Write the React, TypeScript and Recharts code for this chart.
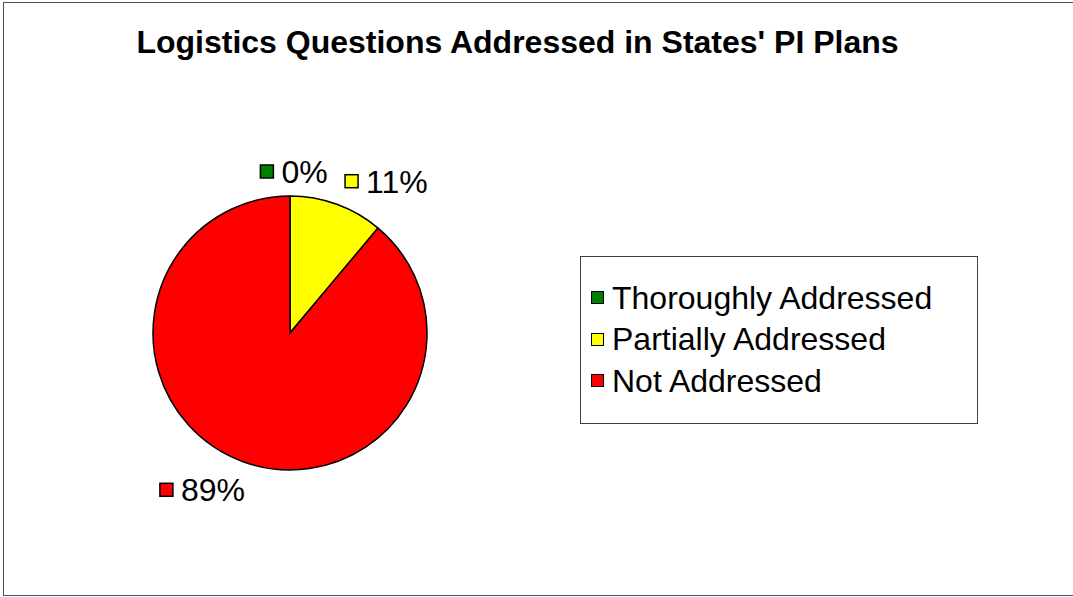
import React from 'react';
import { PieChart, Pie, Cell, Legend } from 'recharts';

// Категории и значения (штаты)
const categories = ['Thoroughly Addressed', 'Partially Addressed', 'Not Addressed'];
const values = [0, 1, 8];
const colors = ['#008000', '#FFFF00', '#FF0000'];

const title = "Logistics Questions Addressed in States' PI Plans";

const data = categories.map((name, i) => ({ name, value: values[i], color: colors[i] }));

const FONT = '"Liberation Sans", Arial, sans-serif';
const RADIAN = Math.PI / 180;

// ширина текста по метрикам Arial
const charW: Record<string, number> = { '%': 0.889 };
const textWidth = (s: string, size: number) =>
  s.split('').reduce((acc, ch) => acc + (charW[ch] ?? 0.556), 0) * size;

const renderLabel = ({ cx, cy, midAngle, outerRadius, percent, index }: any) => {
  const r = outerRadius + 24;
  const cos = Math.cos(-midAngle * RADIAN);
  const x = cx + r * cos;
  const y = cy + r * Math.sin(-midAngle * RADIAN);
  const label = `${Math.round(percent * 100)}%`;
  const size = 32;
  const w = 21 + textWidth(label, size);
  let left = x;
  if (Math.abs(cos) < 0.2) left = x - w / 2 + 4;
  else if (cos < 0) left = x - w + 10;
  const yy = cos < -0.2 ? y + 6 : y;
  return (
    <g key={`lbl-${index}`}>
      <rect x={left} y={yy - 7} width={13} height={13} fill={colors[index]} stroke="#000" strokeWidth={1.5} />
      <text x={left + 21} y={yy} dominantBaseline="central" fontSize={size} fontFamily={FONT} fill="#000">
        {label}
      </text>
    </g>
  );
};

const renderLegend = ({ payload }: any) => {
  const items = [...(payload || [])].sort(
    (a: any, b: any) => categories.indexOf(a.value) - categories.indexOf(b.value)
  );
  return (
    <div
      style={{
        width: 386,
        height: 146,
        border: '1px solid #404040',
        background: '#fff',
        boxSizing: 'content-box',
        paddingTop: 20,
        paddingLeft: 10,
        fontFamily: FONT,
      }}
    >
      {items.map((p: any, i: number) => (
        <div key={i} style={{ display: 'flex', alignItems: 'center', height: 41.5 }}>
          <span
            style={{
              display: 'inline-block',
              width: 11,
              height: 11,
              background: p.color,
              border: '1.5px solid #000',
              marginRight: 8,
            }}
          />
          <span style={{ fontSize: 32, color: '#000', lineHeight: 1 }}>{p.value}</span>
        </div>
      ))}
    </div>
  );
};

export default function App() {
  return (
    <div style={{ position: 'absolute', left: 0, top: 0, width: 1073, height: 597, overflow: 'hidden', background: '#fff' }}>
      <div
        style={{
          position: 'absolute',
          left: 3,
          top: 2,
          width: 1080,
          height: 592,
          border: '1px solid #505050',
        }}
      />
      <div
        style={{
          position: 'absolute',
          left: 0,
          top: 24,
          width: 1035,
          textAlign: 'center',
          fontFamily: FONT,
          fontWeight: 'bold',
          fontSize: 32,
          color: '#000',
        }}
      >
        {title}
      </div>
      <div style={{ position: 'absolute', left: 0, top: 0 }}>
        <PieChart width={1073} height={597} margin={{ top: 0, right: 0, bottom: 0, left: 0 }}>
          <Pie
            data={data}
            dataKey="value"
            nameKey="name"
            cx={290}
            cy={333}
            outerRadius={137}
            startAngle={90}
            endAngle={-270}
            stroke="#000"
            strokeWidth={1.5}
            label={renderLabel}
            labelLine={false}
            isAnimationActive={false}
          >
            {data.map((d, i) => (
              <Cell key={`cell-${i}`} fill={d.color} />
            ))}
          </Pie>
          <Legend
            content={renderLegend}
            wrapperStyle={{ position: 'absolute', left: 580, top: 256, width: 'auto' }}
          />
        </PieChart>
      </div>
    </div>
  );
}
